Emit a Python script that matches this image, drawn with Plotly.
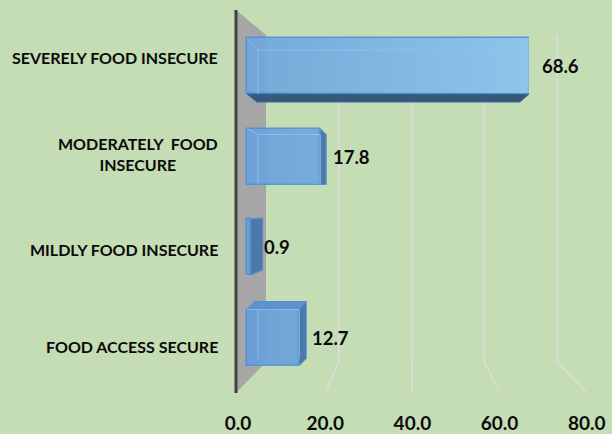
import plotly.graph_objects as go

# ---------------- data ----------------
categories = ["SEVERELY FOOD INSECURE", "MODERATELY&nbsp; FOOD<br>INSECURE",
              "MILDLY FOOD INSECURE", "FOOD ACCESS SECURE"]
values = [68.6, 17.8, 0.9, 12.7]
value_labels = ["68.6", "17.8", "0.9", "12.7"]
tick_values = [0, 20, 40, 60, 80]
tick_labels = ["0.0", "20.0", "40.0", "60.0", "80.0"]

# ---------------- style / layout constants ----------------
W, H = 612, 434
ML, MR, MT, MB = 236, 12, 12, 42
PW, PH = W - ML - MR, H - MT - MB
BG = "#C5DDB4"
FONT = "Lato"
TXT = "#0A0A0A"

X0PX, XS = 247, 4.11          # bar (middle) plane: pixel of 0, px per unit
FX0, FXS = 238, 4.36          # front plane (tick labels)
BX0, BXS = 266, 3.64          # back plane (wall grid)
YC, YS = 337.5, 90.5          # pixel of position 0, px per category
BAR_W = 56 / YS

pos = list(range(len(categories) - 1, -1, -1))   # top -> bottom
bar_colors = ["#6FA6DC", "#6AA1D9", "#6A9FD6", "#689ED7"]
# perspective offsets of the back face (px): right, top, bottom
dxr = [-9, 6, 12, 7]
dyt = [12, 6, -1, -8]
dyb = [8, 0, -5, -7]
DL = 11


def px(xp):
    return (xp - ML) / PW


def py(yp):
    return (MT + PH - yp) / PH


def bx(v, d=0):
    return v + d / XS


def by(p, d=0):
    return p - d / YS


shapes = []
# back wall (side wall at value 0)
shapes.append(dict(type="path", xref="paper", yref="paper", layer="below",
                   path=f"M {px(236)},{py(10)} L {px(266)},{py(35)} L {px(266)},{py(362)} "
                        f"L {px(236)},{py(393)} Z",
                   fillcolor="#A6A6A6", line=dict(width=0)))
shapes.append(dict(type="line", xref="paper", yref="paper", layer="below",
                   x0=px(236), x1=px(236), y0=py(10), y1=py(393),
                   line=dict(color="#404040", width=3)))
# perspective gridlines
for t in tick_values[1:]:
    bxp = BX0 + BXS * t
    fxp = FX0 + FXS * t
    shapes.append(dict(type="path", xref="paper", yref="paper", layer="below",
                       path=f"M {px(bxp)},{py(36)} L {px(bxp)},{py(362)} L {px(fxp)},{py(393)}",
                       line=dict(color="#DCDCDC", width=1.6)))

# 3D faces of the bars
for i, (v, p) in enumerate(zip(values, pos)):
    top = p + BAR_W / 2
    bot = p - BAR_W / 2
    Lx, Rx = 0, v
    if dxr[i] > 0:
        shapes.append(dict(type="path", xref="x", yref="y", layer="above",
                           path=f"M {Rx},{top} L {bx(Rx, dxr[i])},{by(top, dyt[i])} "
                                f"L {bx(Rx, dxr[i])},{by(bot, dyb[i])} L {Rx},{bot} Z",
                           fillcolor="#4C79A8", line=dict(color="#4F8FD8", width=1)))
    if dyt[i] < -2:
        shapes.append(dict(type="path", xref="x", yref="y", layer="above",
                           path=f"M {Lx},{top} L {bx(Lx, DL*0.7)},{by(top, dyt[i])} "
                                f"L {bx(Rx, dxr[i])},{by(top, dyt[i])} L {Rx},{top} Z",
                           fillcolor="#5C93CF", line=dict(color="#4F8FD8", width=1)))
    if dyb[i] > 0:
        shapes.append(dict(type="path", xref="x", yref="y", layer="above",
                           path=f"M {Lx},{bot} L {Rx},{bot} L {bx(Rx, dxr[i])},{by(bot, dyb[i])} "
                                f"L {bx(Lx, 10)},{by(bot, dyb[i])} Z",
                           fillcolor="#36587A", line=dict(color="#3A6A9A", width=1)))
    # back edges seen through the translucent front face
    if v > 5:
        bl = bx(Lx, DL)
        br = bx(Rx, min(dxr[i], 0))
        bt = by(top, max(dyt[i], 0))
        bb = by(bot, min(dyb[i], 0))
        shapes.append(dict(type="path", xref="x", yref="y", layer="above",
                           path=f"M {bl},{bb} L {bl},{bt} L {br},{bt} L {br},{bb}",
                           line=dict(color="rgba(140,195,245,0.8)", width=1)))
        shapes.append(dict(type="line", xref="x", yref="y", layer="above",
                           x0=Lx, y0=top, x1=bl, y1=bt,
                           line=dict(color="rgba(140,195,245,0.8)", width=1)))
        if dxr[i] < 0:
            shapes.append(dict(type="line", xref="x", yref="y", layer="above",
                               x0=Rx, y0=top, x1=br, y1=bt,
                               line=dict(color="rgba(140,195,245,0.8)", width=1)))

fig = go.Figure()
fig.add_trace(go.Bar(
    x=values, y=pos, orientation="h", width=BAR_W,
    marker=dict(color=bar_colors, line=dict(color="#4F8FD8", width=1.5)),
    opacity=0.92, hoverinfo="skip", showlegend=False, xaxis="x", yaxis="y"))

# light horizontal sheen over the bar faces (gradient along the value axis)
gx, gy = [], []
for v, p in zip(values, pos):
    gx += [0, v, v, 0, 0, None]
    gy += [p - BAR_W / 2, p - BAR_W / 2, p + BAR_W / 2, p + BAR_W / 2, p - BAR_W / 2, None]
fig.add_trace(go.Scatter(
    x=gx, y=gy, mode="lines", fill="toself", line=dict(width=0),
    fillgradient=dict(type="horizontal", start=0, stop=70,
                      colorscale=[[0, "rgba(160,215,250,0)"], [1, "rgba(165,220,250,0.55)"]]),
    hoverinfo="skip", showlegend=False, xaxis="x", yaxis="y"))

# invisible trace carrying the front-plane tick axis
fig.add_trace(go.Scatter(
    x=[tick_values[0], tick_values[-1]], y=[pos[-1], pos[-1]], mode="markers",
    marker=dict(opacity=0), hoverinfo="skip", showlegend=False, xaxis="x2", yaxis="y"))

annotations = []
for v, p, lab in zip(values, pos, value_labels):
    annotations.append(dict(x=v, y=p, xref="x", yref="y", text=lab, showarrow=False,
                            xanchor="left", yanchor="middle", xshift=11,
                            font=dict(family=FONT, size=18.5, color=TXT, weight="bold")))
for c, p in zip(categories, pos):
    annotations.append(dict(x=px(220), y=p, xref="paper", yref="y", text=c, showarrow=False,
                            xanchor="right", yanchor="middle", align="center",
                            yshift=5.8 * (p - 1.5),
                            font=dict(family=FONT, size=16, color=TXT, weight="bold")))

fig.update_layout(
    template="none",
    width=W, height=H,
    margin=dict(l=ML, r=MR, t=MT, b=MB, pad=0, autoexpand=False),
    paper_bgcolor=BG, plot_bgcolor=BG,
    showlegend=False,
    bargap=0,
    xaxis=dict(range=[(ML - X0PX) / XS, (ML + PW - X0PX) / XS], showgrid=False,
               automargin=False,
               zeroline=False, showline=False, showticklabels=False, ticks=""),
    xaxis2=dict(overlaying="x", side="bottom", anchor="y", automargin=False,
                range=[(ML - FX0) / FXS, (ML + PW - FX0) / FXS],
                tickmode="array", tickvals=tick_values, ticktext=tick_labels,
                showgrid=False, zeroline=False, showline=False, ticks="",
                ticklabelstandoff=18,
                tickfont=dict(family=FONT, size=19, color=TXT, weight="bold")),
    yaxis=dict(range=[(YC - (MT + PH)) / YS, (YC - MT) / YS], showgrid=False,
               automargin=False,
               zeroline=False, showline=False, showticklabels=False, ticks=""),
    shapes=shapes,
    annotations=annotations,
)

fig.write_html("out.html", config={"displayModeBar": False},
               post_script="document.body.style.margin='0px';"
                           "document.body.style.background='" + BG + "';")
